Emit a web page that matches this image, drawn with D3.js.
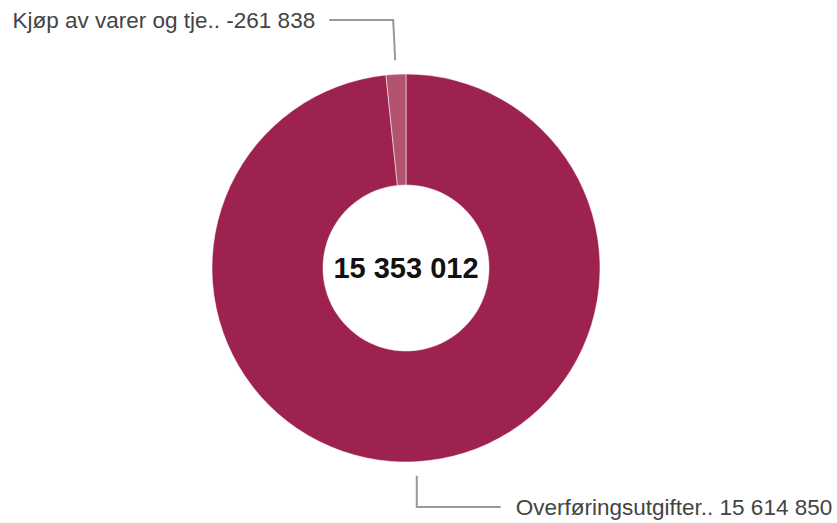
<!DOCTYPE html>
<html>
<head>
<meta charset="utf-8">
<script src="https://cdn.jsdelivr.net/npm/d3@7"></script>
<style>
  body { margin: 0; background: #fff; }
  text { font-family: "Liberation Sans", Arial, sans-serif; }
</style>
</head>
<body>
<svg width="837" height="523"></svg>
<script>

var labels = ["Overføringsutgifter..", "Kjøp av varer og tje.."],
    values = [15614850, -261838],
    colors = ["#9e2250", "#b2546f"];

var width = 837, height = 523,
    cx = 406, cy = 268,
    outer = 194, inner = 83;

var fmt = function(v) {
  return (v < 0 ? "-" : "") + d3.format(",")(Math.abs(v)).replace(/,/g, " ");
};

var svg = d3.select("svg");
var g = svg.append("g").attr("transform", "translate(" + cx + "," + cy + ")");

var pie = d3.pie()
    .sort(null)
    .value(function(d) { return Math.abs(d); });

var arcs = pie(values);

var arc = d3.arc()
    .innerRadius(inner)
    .outerRadius(outer);

g.selectAll("path.slice")
  .data(arcs)
  .enter().append("path")
    .attr("class", "slice")
    .attr("d", arc)
    .attr("fill", function(d, i) { return colors[i]; })
    .attr("stroke", "#fff")
    .attr("stroke-width", 0.5);

// leader lines + labels
var lineStart = outer + 14, lineBend = 248;

arcs.forEach(function(d, i) {
  var a = (d.startAngle + d.endAngle) / 2,
      sx = Math.sin(a), sy = -Math.cos(a);
  var p0 = [sx * lineStart, sy * lineStart];
  var p1, p2, tx, anchor;
  if (sy < 0) {
    p1 = [sx * lineBend, -lineBend];
    p2 = [p1[0] - 64, p1[1]];
    tx = p2[0] - 14; anchor = "end";
  } else {
    p1 = [p0[0], 239];
    p2 = [p1[0] + 84, p1[1]];
    tx = p2[0] + 15; anchor = "start";
  }
  g.append("path")
      .attr("d", d3.line()([p0, p1, p2]))
      .attr("fill", "none")
      .attr("stroke", "#999")
      .attr("stroke-width", 2);
  g.append("text")
      .attr("x", tx)
      .attr("y", p2[1])
      .attr("dy", "0.35em")
      .attr("text-anchor", anchor)
      .attr("fill", "#444")
      .attr("font-size", 22.5)
      .text(labels[i] + " " + fmt(values[i]));
});

g.append("text")
    .attr("text-anchor", "middle")
    .attr("dy", "0.35em")
    .attr("font-size", 29)
    .attr("font-weight", "bold")
    .attr("fill", "#111")
    .text(fmt(d3.sum(values)));

</script>
</body>
</html>
